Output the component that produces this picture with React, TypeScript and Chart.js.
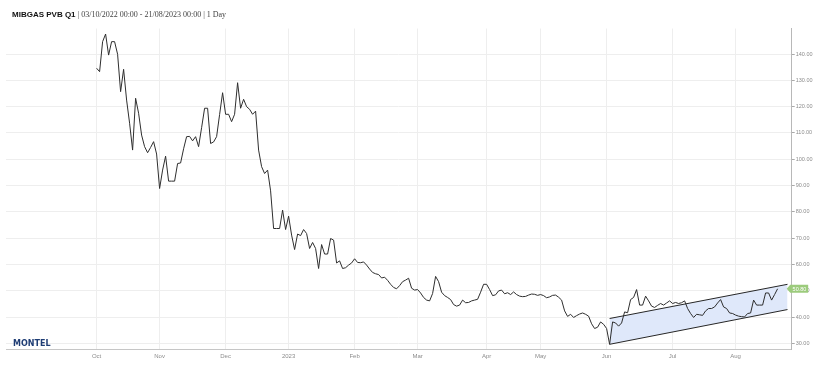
import React, { useEffect, useRef } from 'react';
import { Chart, registerables } from 'chart.js';

Chart.register(...registerables);

const TITLE_BOLD = 'MIBGAS PVB Q1';
const TITLE_REST = ' | 03/10/2022 00:00 - 21/08/2023 00:00 | 1 Day';
const LOGO_TEXT = 'MONTEL';

// Daily (trading-day) settlement prices, 03/10/2022 .. 21/08/2023
const prices: number[] = [
  134.6, 133.3, 144.7, 147.6, 139.6, 144.7, 144.7, 139.9, 125.7, 134.2,
  122.5, 113.7, 103.5, 123.2, 117.5, 109.2, 104.8, 102.5, 104.5, 106.7,
  102.0, 88.9, 95.9, 101.2, 91.7, 91.7, 91.7, 98.4, 98.6, 104.0,
  108.6, 108.7, 107.0, 108.6, 104.8, 112.0, 119.4, 119.4, 106.0, 106.6,
  108.6, 117.0, 125.3, 117.1, 117.1, 114.3, 117.1, 129.1, 119.4, 122.8,
  120.0, 119.0, 117.1, 118.3, 103.5, 97.2, 94.6, 95.9, 88.0, 73.7,
  73.7, 73.7, 80.7, 73.3, 78.4, 71.2, 65.7, 71.6, 71.0, 73.3,
  71.8, 66.1, 68.4, 66.1, 58.5, 67.6, 64.0, 64.0, 69.9, 69.3,
  60.6, 61.4, 58.5, 58.8, 59.8, 60.6, 62.2, 60.8, 60.7, 61.0,
  59.8, 58.3, 57.0, 56.5, 56.2, 54.9, 55.2, 54.0, 52.5, 51.3,
  50.8, 52.0, 53.5, 54.1, 54.8, 51.0, 50.3, 50.5, 49.2, 47.5,
  46.5, 46.2, 49.0, 55.5, 53.5, 49.5, 48.2, 47.5, 46.7, 44.8,
  44.2, 44.6, 46.5, 45.5, 45.6, 46.2, 46.5, 46.8, 49.5, 52.5,
  52.5, 50.5, 48.2, 48.5, 50.0, 50.3, 48.9, 49.3, 48.6, 49.6,
  48.6, 48.0, 47.8, 47.9, 48.4, 48.8, 48.7, 48.3, 48.6, 48.2,
  47.4, 47.7, 48.3, 48.4, 47.6, 46.5, 42.4, 40.3, 41.1, 39.9,
  40.6, 41.2, 41.6, 41.1, 40.4, 37.5, 35.7, 36.2, 38.2, 37.3,
  35.7, 29.7, 38.2, 37.8, 36.6, 37.8, 42.0, 41.7, 46.7, 47.5,
  50.5, 44.6, 44.6, 48.0, 46.2, 44.2, 43.7, 44.5, 45.2, 44.6,
  45.4, 46.2, 45.2, 45.6, 45.2, 45.5, 46.2, 43.3, 41.4, 39.9,
  41.1, 40.9, 40.7, 42.4, 43.3, 43.3, 43.9, 45.4, 46.7, 43.9,
  43.3, 41.6, 41.4, 40.8, 40.4, 40.2, 40.1, 41.4, 41.6, 46.5,
  44.6, 44.6, 44.6, 49.2, 49.2, 46.5, 48.6, 50.8,
];

// Month boundaries (trading-day index) and their labels
const monthTickIndex: number[] = [0, 21, 43, 64, 86, 107, 130, 148, 170, 192, 213];
const monthTickLabels: string[] = ['Oct', 'Nov', 'Dec', '2023', 'Feb', 'Mar', 'Apr', 'May', 'Jun', 'Jul', 'Aug'];

const yTicks: number[] = [30, 40, 50, 60, 70, 80, 90, 100, 110, 120, 130, 140];

// Trend channel drawn on the chart
const channelX: number[] = [171, 230.3];
const channelUpper: number[] = [39.5, 52.5];
const channelLower: number[] = [29.7, 42.9];

const overlayPlugin = {
  id: 'overlay',
  afterDraw(chart: any) {
    const ctx = chart.ctx;
    const area = chart.chartArea;
    const last = prices[prices.length - 1];
    const y = chart.scales.y.getPixelForValue(last);
    const x0 = area.right - 5;
    ctx.save();
    ctx.fillStyle = '#9ccb7c';
    ctx.beginPath();
    ctx.moveTo(x0, y);
    ctx.lineTo(x0 + 3.5, y - 4);
    ctx.lineTo(x0 + 21.5, y - 4);
    ctx.lineTo(x0 + 21.5, y + 4);
    ctx.lineTo(x0 + 3.5, y + 4);
    ctx.closePath();
    ctx.fill();
    ctx.fillStyle = '#ffffff';
    ctx.font = '5.5px "Liberation Sans", Arial, sans-serif';
    ctx.textAlign = 'center';
    ctx.textBaseline = 'middle';
    ctx.fillText(last.toFixed(2), x0 + 12.8, y + 0.3);

    ctx.fillStyle = '#1e3c74';
    ctx.font = 'bold 8px "DejaVu Sans", sans-serif';
    ctx.textAlign = 'left';
    ctx.fillText(LOGO_TEXT, 13, 343.8);
    ctx.restore();
  },
};

export default function App() {
  const canvasRef = useRef<HTMLCanvasElement | null>(null);

  useEffect(() => {
    if (!canvasRef.current) return;
    const tickFont = { family: '"Liberation Sans", Arial, sans-serif', size: 6 };
    const chart = new Chart(canvasRef.current, {
      type: 'line',
      data: {
        datasets: [
          {
            data: prices.map((v, i) => ({ x: i, y: v })),
            borderColor: '#2e2e2e',
            borderWidth: 1,
            pointRadius: 0,
            tension: 0,
            fill: false,
          },
          {
            data: channelX.map((x, i) => ({ x, y: channelUpper[i] })),
            borderColor: '#262626',
            borderWidth: 1,
            pointRadius: 0,
            tension: 0,
            fill: '+1',
            backgroundColor: '#dfe8fa',
          },
          {
            data: channelX.map((x, i) => ({ x, y: channelLower[i] })),
            borderColor: '#262626',
            borderWidth: 1,
            pointRadius: 0,
            tension: 0,
            fill: false,
          },
        ],
      },
      options: {
        responsive: false,
        animation: false,
        devicePixelRatio: 1,
        layout: { padding: { left: 6, top: 28.5, right: 0, bottom: 0 } },
        plugins: {
          legend: { display: false },
          tooltip: { enabled: false },
          filler: { drawTime: 'beforeDatasetsDraw' },
        } as any,
        scales: {
          x: {
            type: 'linear',
            min: -30.2,
            max: 231.7,
            afterBuildTicks: (s: any) => {
              s.ticks = monthTickIndex.map((v) => ({ value: v }));
            },
            afterFit: (s: any) => {
              s.height = 34.7;
            },
            grid: { color: '#eeeeee', drawTicks: false },
            border: { color: '#c6c6c6' },
            ticks: {
              autoSkip: false,
              maxRotation: 0,
              padding: 3,
              color: '#8c8c8c',
              font: tickFont,
              callback: (_v: any, idx: number) => monthTickLabels[idx],
            },
          },
          y: {
            type: 'linear',
            position: 'right',
            min: 27.8,
            max: 149.7,
            afterBuildTicks: (s: any) => {
              s.ticks = yTicks.map((v) => ({ value: v }));
            },
            afterFit: (s: any) => {
              s.width = 39.3;
            },
            grid: { color: '#eeeeee', tickColor: '#aaaaaa', tickLength: 3, drawTicks: true },
            border: { color: '#b8b8b8' },
            ticks: {
              padding: 1,
              color: '#8c8c8c',
              font: { family: '"Liberation Sans", Arial, sans-serif', size: 5.5 },
              callback: (v: any) => Number(v).toFixed(2),
            },
          },
        },
      } as any,
      plugins: [overlayPlugin],
    });
    return () => chart.destroy();
  }, []);

  return (
    <div style={{ position: 'absolute', left: 0, top: 0, width: 831, height: 384, background: '#ffffff' }}>
      <canvas ref={canvasRef} width={831} height={384} style={{ position: 'absolute', left: 0, top: 0 }} />
      <div
        style={{
          position: 'absolute',
          left: 12,
          top: 10,
          fontSize: 8,
          lineHeight: '9px',
          whiteSpace: 'nowrap',
          color: '#111',
        }}
      >
        <span style={{ fontFamily: '"Liberation Sans", Arial, sans-serif', fontWeight: 'bold' }}>{TITLE_BOLD}</span>
        <span style={{ fontFamily: '"Liberation Serif", serif', color: '#444' }}>{TITLE_REST}</span>
      </div>
    </div>
  );
}
